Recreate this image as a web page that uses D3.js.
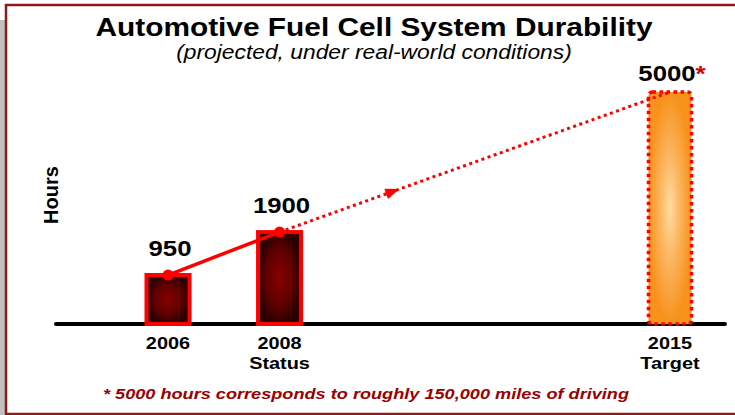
<!DOCTYPE html>
<html>
<head>
<meta charset="utf-8">
<script src="https://cdn.jsdelivr.net/npm/d3@7"></script>
<style>
  body { margin: 0; background: #fff; }
  svg { display: block; font-family: "Liberation Sans", Arial, sans-serif; }
</style>
</head>
<body>
<div id="vis"></div>
<script>
// data
var years = [2006, 2008, 2015]
var hours = [950, 1900, 5000]
var yearLabels = ["2006", "2008", "2015"]
var subLabels = ["", "Status", "Target"]
var valueLabels = ["950", "1900", "5000"]
var isTarget = [false, false, true]

var title = "Automotive Fuel Cell System Durability"
var subtitle = "(projected, under real-world conditions)"
var footnote = "* 5000 hours corresponds to roughly 150,000 miles of driving"

var width = 735, height = 415
var baseY = 324
// slide was squeezed to a wider frame, text looks stretched sideways
var STRETCH = 1.17

var svg = d3.select("#vis").append("svg")
    .attr("width", width).attr("height", height)

var defs = svg.append("defs")
var g1 = defs.append("radialGradient").attr("id", "darkFill")
g1.append("stop").attr("offset", "0%").attr("stop-color", "#8a0000")
g1.append("stop").attr("offset", "65%").attr("stop-color", "#5c0000")
g1.append("stop").attr("offset", "100%").attr("stop-color", "#2c0000")
var g2 = defs.append("radialGradient").attr("id", "targetFill")
g2.append("stop").attr("offset", "0%").attr("stop-color", "#ffdba3")
g2.append("stop").attr("offset", "45%").attr("stop-color", "#fbb661")
g2.append("stop").attr("offset", "100%").attr("stop-color", "#f7921c")

var bars = years.map(function(d, i) {
    return {year: d, hours: hours[i], label: yearLabels[i], sub: subLabels[i], value: valueLabels[i], target: isTarget[i]}
})

// scales (the baseline sits a bit under zero on the slide)
var x = d3.scaleLinear().domain([2006, 2015]).range([168, 670])
var y = d3.scaleLinear().domain([-134, 5000]).range([baseY, 92])
var barW = 43

//frame
svg.append("rect").attr("x", 0).attr("y", 20).attr("width", 5).attr("height", 395).attr("fill", "#c0c0c0")
svg.append("line").attr("x1", 5).attr("x2", width).attr("y1", 5).attr("y2", 5)
    .attr("stroke", "#8e1a1a").attr("stroke-width", 2.5)
svg.append("line").attr("x1", 6).attr("x2", 6).attr("y1", 4).attr("y2", 415)
    .attr("stroke", "#8e1a1a").attr("stroke-width", 2.5)
svg.append("line").attr("x1", 5).attr("x2", width).attr("y1", 414).attr("y2", 414)
    .attr("stroke", "#8e1a1a").attr("stroke-width", 2.5)

function stretch(sel, k) {
    sel.each(function() {
        var w = this.getComputedTextLength()
        d3.select(this).attr("textLength", w * k).attr("lengthAdjust", "spacingAndGlyphs")
    })
}

//titles
svg.append("text").attr("x", 374).attr("y", 36).attr("text-anchor", "middle")
    .style("font-size", "25.5px").style("font-weight", "bold").text(title)
    .call(stretch, STRETCH)
svg.append("text").attr("x", 374).attr("y", 59).attr("text-anchor", "middle")
    .style("font-size", "19.5px").style("font-style", "italic").text(subtitle)
    .call(stretch, STRETCH)

//y label
svg.append("text").attr("transform", "translate(58,195) rotate(-90)")
    .attr("text-anchor", "middle").style("font-size", "20px").style("font-weight", "bold")
    .text("Hours")

//baseline
svg.append("line").attr("x1", 56).attr("x2", 725).attr("y1", baseY).attr("y2", baseY)
    .attr("stroke", "#000").attr("stroke-width", 4).attr("stroke-linecap", "round")

//bars
svg.selectAll(".bar").data(bars).enter().append("rect").attr("class", "bar")
    .attr("x", function(d) { return x(d.year) - barW / 2 })
    .attr("y", function(d) { return y(d.hours) })
    .attr("width", barW)
    .attr("height", function(d) { return baseY - y(d.hours) })
    .attr("rx", function(d) { return d.target ? 4 : 0 })
    .attr("fill", function(d) { return d.target ? "url(#targetFill)" : "url(#darkFill)" })
    .attr("stroke", "#ff0000")
    .attr("stroke-width", function(d) { return d.target ? 3.5 : 4 })
    .attr("stroke-dasharray", function(d) { return d.target ? "3.5,3.5" : null })

//trend line
var solid = bars.filter(function(d) { return !d.target })
var line = d3.line().x(function(d) { return x(d.year) }).y(function(d) { return y(d.hours) })
svg.append("path").datum(solid).attr("d", line)
    .attr("fill", "none").attr("stroke", "#ff0000").attr("stroke-width", 3.5)
var proj = [bars[1], bars[2]]
svg.append("path").datum(proj).attr("d", line)
    .attr("fill", "none").attr("stroke", "#ff0000").attr("stroke-width", 3)
    .attr("stroke-dasharray", "3,3.5")
svg.selectAll(".dot").data(solid).enter().append("circle").attr("class", "dot")
    .attr("cx", function(d) { return x(d.year) }).attr("cy", function(d) { return y(d.hours) })
    .attr("r", 5.5).attr("fill", "#ff0000")

// arrow head on the projected part
var p0 = [x(proj[0].year), y(proj[0].hours)], p1 = [x(proj[1].year), y(proj[1].hours)]
var t = 0.29
var ang = Math.atan2(p1[1] - p0[1], p1[0] - p0[0]) * 180 / Math.PI
svg.append("path").attr("d", "M7,0 L-7,-5.5 L-7,5.5 Z").attr("fill", "#ff0000")
    .attr("transform", "translate(" + (p0[0] + t * (p1[0] - p0[0])) + "," + (p0[1] + t * (p1[1] - p0[1])) + ") rotate(" + ang + ")")

//value labels
var vl = svg.selectAll(".val").data(bars).enter().append("text").attr("class", "val")
    .attr("x", function(d) { return x(d.year) + 2 })
    .attr("y", function(d) { return y(d.hours) - (d.target ? 11 : 19) })
    .attr("text-anchor", "middle").style("font-size", "22px").style("font-weight", "bold")
vl.append("tspan").text(function(d) { return d.value })
vl.filter(function(d) { return d.target }).append("tspan").attr("fill", "#d40000").text("*")
vl.call(stretch, STRETCH)

//category labels
svg.selectAll(".yr").data(bars).enter().append("text").attr("class", "yr")
    .attr("x", function(d) { return x(d.year) }).attr("y", 349)
    .attr("text-anchor", "middle").style("font-size", "17px").style("font-weight", "bold")
    .text(function(d) { return d.label })
    .call(stretch, STRETCH)
svg.selectAll(".sub").data(bars.filter(function(d) { return d.sub })).enter().append("text").attr("class", "sub")
    .attr("x", function(d) { return x(d.year) }).attr("y", 369)
    .attr("text-anchor", "middle").style("font-size", "17px").style("font-weight", "bold")
    .text(function(d) { return d.sub })
    .call(stretch, STRETCH)

//footnote
svg.append("text").attr("x", 366).attr("y", 399).attr("text-anchor", "middle")
    .style("font-size", "15.5px").style("font-weight", "bold").style("font-style", "italic")
    .attr("fill", "#990000").text(footnote)
    .call(stretch, STRETCH)
</script>
</body>
</html>
